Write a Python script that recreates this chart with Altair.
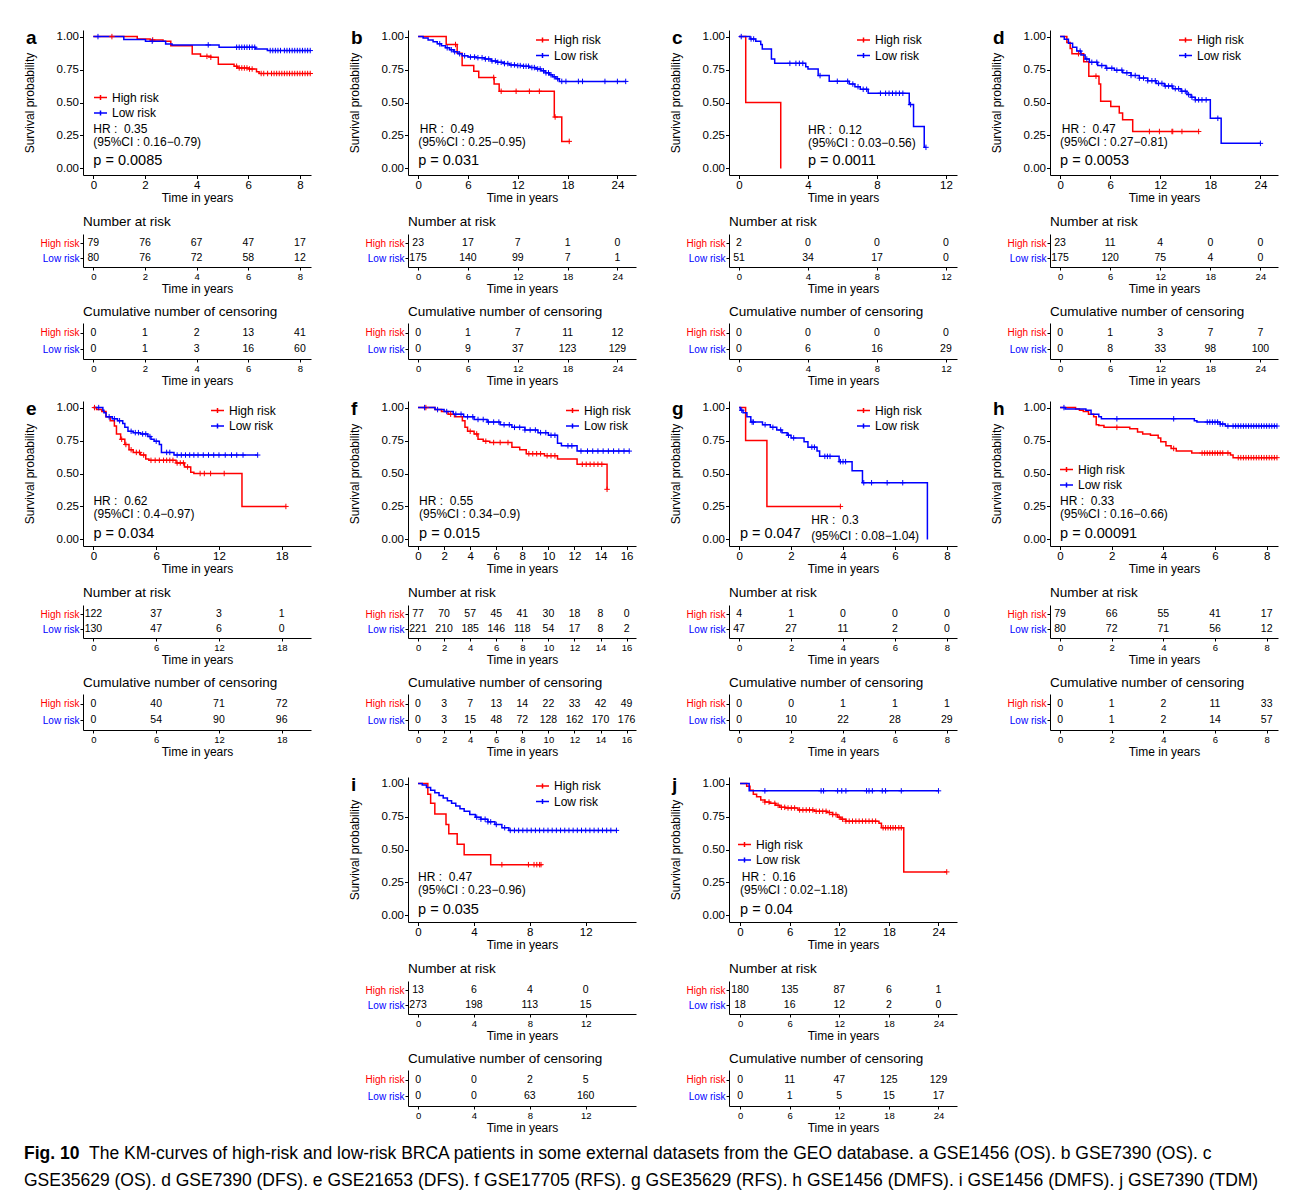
import altair as alt
import pandas as pd

FONT = "Liberation Sans, Arial, Helvetica, sans-serif"
CAP_FONT = "Liberation Sans, Arial, sans-serif"
RED = "#FF0000"
BLUE = "#0000FF"
GROUPS = ["High risk", "Low risk"]
PLUS = "M-1,0L1,0M0,-1L0,1"
KEY = "M-1,0L1,0M0,-0.4L0,0.4"
W = 228
H_KM = 145
H_RISK = 33
H_CENS = 36

# ---------------- panel a : GSE1456 (OS) ----------------
A_BREAKS = [0, 2, 4, 6, 8]
A_HIGH_T = [0, 1.70, 2.20, 2.70, 3.00, 3.83, 4.15, 4.55, 4.84, 5.45, 5.58, 6.03, 6.32, 6.42, 8.43]
A_HIGH_S = [1.0, 0.982, 0.975, 0.965, 0.93, 0.868, 0.85, 0.843, 0.79, 0.775, 0.762, 0.754, 0.734, 0.72, 0.72]
A_HIGH_C = [0.72, 2.3, 4.4, 4.55, 5.55, 5.65, 5.75, 5.85, 5.95, 6.05, 6.15, 6.5, 6.6, 6.75, 6.9, 7.0, 7.1, 7.2,
            7.3, 7.4, 7.5, 7.6, 7.7, 7.8, 7.9, 8.0, 8.1, 8.2, 8.3, 8.4]
A_LOW_T = [0, 1.18, 2.02, 2.80, 3.05, 4.87, 6.29, 6.74, 8.43]
A_LOW_S = [1.0, 0.977, 0.965, 0.944, 0.937, 0.919, 0.906, 0.894, 0.894]
A_LOW_C = [0.18, 2.28, 4.45, 5.55, 5.65, 5.75, 5.85, 5.95, 6.05, 6.15, 6.25, 6.85, 6.95, 7.05, 7.15, 7.25, 7.4,
           7.5, 7.6, 7.7, 7.8, 7.9, 8.0, 8.1, 8.2, 8.3, 8.4]
A_RISK_HIGH = [79, 76, 67, 47, 17]
A_RISK_LOW = [80, 76, 72, 58, 12]
A_CENS_HIGH = [0, 1, 2, 13, 41]
A_CENS_LOW = [0, 1, 3, 16, 60]
A_HR = "HR :\u00a0 0.35"
A_CI = "(95%CI : 0.16\u22120.79)"
A_P = "p = 0.0085"

# ---------------- panel b : GSE7390 (OS) ----------------
B_BREAKS = [0, 6, 12, 18, 24]
B_HIGH_T = [0, 3.38, 4.7, 5.3, 6.7, 7.3, 9.15, 9.76, 16.4, 17.3, 18.3]
B_HIGH_S = [1.0, 0.94, 0.873, 0.78, 0.737, 0.69, 0.64, 0.585, 0.39, 0.205, 0.205]
B_HIGH_C = [4.5, 9.1, 10.0, 11.8, 13.4, 14.6, 16.5, 18.2]
B_LOW_T = [0, 0.6, 1.2, 1.8, 2.3, 2.8, 3.3, 3.8, 4.3, 4.8, 5.3, 6.0, 7.0, 8.0, 8.8, 9.5, 10.3, 11.0, 11.8,
           12.6, 13.4, 14.2, 14.8, 15.3, 15.8, 16.2, 16.6, 17.0, 25.0]
B_LOW_S = [1.0, 0.99, 0.975, 0.96, 0.945, 0.93, 0.915, 0.90, 0.885, 0.87, 0.855, 0.845, 0.84, 0.83, 0.815,
           0.805, 0.795, 0.785, 0.78, 0.775, 0.765, 0.755, 0.74, 0.725, 0.71, 0.695, 0.68, 0.66, 0.66]
B_LOW_C = [2.6, 3.5, 4.0, 4.4, 5.0, 5.6, 6.3, 6.8, 7.2, 7.7, 8.1, 8.5, 8.9, 9.3, 9.6, 10.0, 10.4, 10.8, 11.2,
           11.6, 12.0, 12.3, 12.7, 13.0, 13.3, 13.7, 14.0, 14.4, 14.7, 15.1, 15.4, 15.7, 16.0, 16.4, 16.8,
           17.3, 17.8, 19.3, 19.8, 22.5, 24.0, 25.0]
B_RISK_HIGH = [23, 17, 7, 1, 0]
B_RISK_LOW = [175, 140, 99, 7, 1]
B_CENS_HIGH = [0, 1, 7, 11, 12]
B_CENS_LOW = [0, 9, 37, 123, 129]
B_HR = "HR :\u00a0 0.49"
B_CI = "(95%CI : 0.25\u22120.95)"
B_P = "p = 0.031"

# ---------------- panel c : GSE35629 (OS) ----------------
C_BREAKS = [0, 4, 8, 12]
C_HIGH_T = [0, 0.39, 2.42]
C_HIGH_S = [1.0, 0.5, 0.0]
C_HIGH_C = []
C_LOW_T = [0, 0.64, 0.97, 1.26, 1.35, 1.88, 2.07, 3.87, 4.0, 4.59, 5.23, 6.39, 6.72, 7.03, 7.49, 9.87,
           10.12, 10.74, 10.84]
C_LOW_S = [1.0, 0.982, 0.965, 0.94, 0.906, 0.83, 0.797, 0.772, 0.755, 0.704, 0.661, 0.64, 0.62, 0.60, 0.57,
           0.484, 0.317, 0.16, 0.16]
C_LOW_C = [0.13, 0.7, 0.85, 2.95, 3.3, 3.5, 3.7, 4.7, 5.7, 6.3, 6.6, 6.9, 7.2, 7.4, 8.2, 8.5, 8.7, 8.9, 9.1,
           9.3, 9.5, 9.95, 10.84]
C_RISK_HIGH = [2, 0, 0, 0]
C_RISK_LOW = [51, 34, 17, 0]
C_CENS_HIGH = [0, 0, 0, 0]
C_CENS_LOW = [0, 6, 16, 29]
C_HR = "HR :\u00a0 0.12"
C_CI = "(95%CI : 0.03\u22120.56)"
C_P = "p = 0.0011"

# ---------------- panel d : GSE7390 (DFS) ----------------
D_BREAKS = [0, 6, 12, 18, 24]
D_HIGH_T = [0, 0.81, 1.21, 1.42, 2.83, 3.44, 4.66, 4.86, 6.07, 7.09, 7.49, 8.70, 16.6]
D_HIGH_S = [1.0, 0.955, 0.91, 0.87, 0.81, 0.70, 0.64, 0.51, 0.47, 0.42, 0.37, 0.28, 0.28]
D_HIGH_C = [2.2, 4.3, 10.7, 11.9, 13.4, 13.5, 14.6, 16.6]
D_LOW_T = [0, 0.5, 1.0, 1.5, 2.0, 2.5, 3.0, 3.5, 4.5, 5.5, 6.5, 7.5, 8.5, 9.5, 10.5, 11.5, 12.5, 13.5, 14.5,
           15.2, 15.7, 16.2, 18.0, 19.3, 24.0]
D_LOW_S = [1.0, 0.98, 0.95, 0.92, 0.89, 0.86, 0.83, 0.805, 0.78, 0.76, 0.745, 0.725, 0.705, 0.685, 0.665,
           0.645, 0.625, 0.605, 0.585, 0.56, 0.54, 0.52, 0.38, 0.19, 0.19]
D_LOW_C = [2.4, 3.2, 3.8, 4.4, 5.0, 5.6, 6.2, 6.8, 7.4, 8.0, 8.5, 9.0, 9.5, 10.0, 10.5, 11.0, 11.4, 11.8, 12.2,
           12.6, 13.0, 13.4, 13.8, 14.2, 14.6, 15.0, 15.4, 15.8, 16.2, 16.6, 17.0, 17.5, 18.9, 24.0]
D_RISK_HIGH = [23, 11, 4, 0, 0]
D_RISK_LOW = [175, 120, 75, 4, 0]
D_CENS_HIGH = [0, 1, 3, 7, 7]
D_CENS_LOW = [0, 8, 33, 98, 100]
D_HR = "HR :\u00a0 0.47"
D_CI = "(95%CI : 0.27\u22120.81)"
D_P = "p = 0.0053"

# ---------------- panel e : GSE21653 (DFS) ----------------
E_BREAKS = [0, 6, 12, 18]
E_HIGH_T = [0, 0.3, 0.8, 1.2, 1.6, 2.0, 2.2, 2.6, 3.0, 3.4, 3.8, 4.5, 5.0, 5.3, 7.9, 8.7, 9.3, 9.6, 14.2, 18.4]
E_HIGH_S = [1.0, 0.985, 0.97, 0.93, 0.90, 0.86, 0.80, 0.76, 0.72, 0.68, 0.66, 0.64, 0.61, 0.60, 0.58, 0.55,
            0.51, 0.50, 0.25, 0.25]
E_HIGH_C = [0.1, 2.7, 3.1, 3.6, 4.1, 4.4, 4.8, 5.5, 5.9, 6.3, 6.7, 7.0, 7.3, 7.6, 8.0, 8.3, 8.6, 9.0, 10.2,
            10.6, 11.2, 12.5, 18.4]
E_LOW_T = [0, 0.9, 1.0, 1.2, 1.8, 2.3, 2.8, 3.0, 3.3, 3.8, 4.5, 5.2, 5.5, 5.8, 6.3, 6.5, 7.7, 15.7]
E_LOW_S = [1.0, 0.98, 0.96, 0.93, 0.915, 0.90, 0.88, 0.85, 0.82, 0.81, 0.80, 0.78, 0.76, 0.745, 0.72, 0.66,
           0.64, 0.64]
E_LOW_C = [0.5, 1.5, 2.0, 2.5, 3.6, 4.0, 4.3, 4.7, 5.0, 5.4, 6.0, 7.0, 7.3, 8.0, 8.4, 8.8, 9.2, 9.6, 10.0,
           10.5, 11.0, 11.5, 12.0, 12.6, 13.2, 13.7, 14.3, 15.7]
E_RISK_HIGH = [122, 37, 3, 1]
E_RISK_LOW = [130, 47, 6, 0]
E_CENS_HIGH = [0, 40, 71, 72]
E_CENS_LOW = [0, 54, 90, 96]
E_HR = "HR :\u00a0 0.62"
E_CI = "(95%CI : 0.4\u22120.97)"
E_P = "p = 0.034"

# ---------------- panel f : GSE17705 (RFS) ----------------
F_BREAKS = [0, 2, 4, 6, 8, 10, 12, 14, 16]
F_HIGH_T = [0, 1.3, 1.8, 2.3, 2.8, 3.4, 3.6, 3.8, 4.3, 4.6, 5.0, 5.5, 7.2, 7.8, 8.3, 9.7, 10.7, 12.2, 14.5]
F_HIGH_S = [1.0, 0.985, 0.97, 0.95, 0.93, 0.90, 0.85, 0.82, 0.80, 0.76, 0.745, 0.735, 0.70, 0.68, 0.65,
            0.635, 0.61, 0.57, 0.38]
F_HIGH_C = [0.6, 2.5, 4.0, 4.5, 5.2, 5.8, 6.3, 6.9, 8.5, 8.8, 9.1, 9.4, 9.9, 10.2, 10.5, 12.6, 12.9, 13.2,
            13.5, 13.8, 14.1, 14.5]
F_LOW_T = [0, 1.3, 2.0, 2.7, 3.5, 4.3, 5.3, 6.3, 7.2, 8.2, 9.2, 10.0, 10.7, 11.0, 12.2, 16.2]
F_LOW_S = [1.0, 0.985, 0.97, 0.95, 0.93, 0.91, 0.89, 0.87, 0.85, 0.83, 0.81, 0.79, 0.73, 0.71, 0.67, 0.67]
F_LOW_C = [0.5, 1.5, 2.2, 2.9, 3.3, 3.8, 4.2, 4.6, 5.0, 5.4, 5.8, 6.2, 6.6, 7.0, 7.4, 7.8, 8.2, 8.6, 9.0,
           9.4, 9.8, 10.2, 10.5, 11.5, 11.8, 12.5, 13.0, 13.4, 13.8, 14.2, 14.6, 15.0, 15.4, 15.8, 16.2]
F_RISK_HIGH = [77, 70, 57, 45, 41, 30, 18, 8, 0]
F_RISK_LOW = [221, 210, 185, 146, 118, 54, 17, 8, 2]
F_CENS_HIGH = [0, 3, 7, 13, 14, 22, 33, 42, 49]
F_CENS_LOW = [0, 3, 15, 48, 72, 128, 162, 170, 176]
F_HR = "HR :\u00a0 0.55"
F_CI = "(95%CI : 0.34\u22120.9)"
F_P = "p = 0.015"

# ---------------- panel g : GSE35629 (RFS) ----------------
G_BREAKS = [0, 2, 4, 6, 8]
G_HIGH_T = [0, 0.25, 1.07, 3.9]
G_HIGH_S = [1.0, 0.75, 0.25, 0.25]
G_HIGH_C = [3.9]
G_LOW_T = [0, 0.05, 0.15, 0.3, 0.45, 0.9, 1.2, 1.45, 1.65, 1.85, 2.0, 2.5, 2.65, 3.0, 3.1, 3.85, 4.35, 4.75,
           7.25]
G_LOW_S = [1.0, 0.98, 0.96, 0.93, 0.89, 0.87, 0.85, 0.83, 0.81, 0.79, 0.77, 0.74, 0.70, 0.67, 0.63, 0.59,
           0.52, 0.43, 0.0]
G_LOW_C = [0.1, 0.5, 0.55, 1.0, 1.3, 1.6, 1.9, 2.1, 2.8, 2.9, 3.3, 3.4, 3.5, 3.9, 4.0, 4.1, 4.8, 5.1, 5.7, 6.3]
G_RISK_HIGH = [4, 1, 0, 0, 0]
G_RISK_LOW = [47, 27, 11, 2, 0]
G_CENS_HIGH = [0, 0, 1, 1, 1]
G_CENS_LOW = [0, 10, 22, 28, 29]
G_HR = "HR :\u00a0 0.3"
G_CI = "(95%CI : 0.08\u22121.04)"
G_P = "p = 0.047"

# ---------------- panel h : GSE1456 (DMFS) ----------------
H_BREAKS = [0, 2, 4, 6, 8]
H_HIGH_T = [0, 0.6, 0.75, 0.9, 1.1, 1.3, 1.4, 1.5, 1.7, 2.7, 3.0, 3.2, 3.5, 3.8, 3.9, 4.1, 4.3, 4.5, 5.1,
            6.6, 6.7, 8.4]
H_HIGH_S = [1.0, 0.99, 0.98, 0.97, 0.95, 0.93, 0.87, 0.865, 0.85, 0.84, 0.815, 0.80, 0.79, 0.77, 0.74,
            0.71, 0.69, 0.67, 0.655, 0.64, 0.62, 0.62]
H_HIGH_C = [2.2, 4.4, 5.5, 5.6, 5.7, 5.8, 5.9, 6.0, 6.1, 6.2, 6.3, 6.5, 6.9, 7.0, 7.1, 7.2, 7.3, 7.4, 7.5,
            7.6, 7.7, 7.8, 7.9, 8.0, 8.1, 8.2, 8.3, 8.4]
H_LOW_T = [0, 0.2, 1.0, 1.2, 1.5, 1.6, 5.2, 5.3, 6.2, 6.4, 8.4]
H_LOW_S = [1.0, 0.99, 0.98, 0.95, 0.93, 0.915, 0.90, 0.89, 0.875, 0.86, 0.86]
H_LOW_C = [0.15, 2.2, 4.4, 5.7, 5.8, 5.9, 6.0, 6.1, 6.2, 6.3, 6.5, 6.7, 6.8, 6.9, 7.0, 7.1, 7.2, 7.3, 7.4,
           7.5, 7.6, 7.7, 7.8, 7.9, 8.0, 8.1, 8.2, 8.3, 8.4]
H_RISK_HIGH = [79, 66, 55, 41, 17]
H_RISK_LOW = [80, 72, 71, 56, 12]
H_CENS_HIGH = [0, 1, 2, 11, 33]
H_CENS_LOW = [0, 1, 2, 14, 57]
H_HR = "HR :\u00a0 0.33"
H_CI = "(95%CI : 0.16\u22120.66)"
H_P = "p = 0.00091"

# ---------------- panel i : GSE1456 (DMFS) ----------------
I_BREAKS = [0, 4, 8, 12]
I_HIGH_T = [0, 0.7, 0.9, 1.2, 2.0, 2.2, 2.8, 3.3, 5.2, 8.9]
I_HIGH_S = [1.0, 0.92, 0.85, 0.77, 0.69, 0.62, 0.54, 0.46, 0.385, 0.385]
I_HIGH_C = [6.0, 7.9, 8.3, 8.5, 8.7, 8.8]
I_LOW_T = [0, 0.3, 0.6, 0.9, 1.2, 1.5, 1.8, 2.1, 2.4, 2.7, 3.0, 3.3, 3.7, 4.1, 4.5, 5.0, 5.5, 6.0, 6.5, 14.2]
I_LOW_S = [1.0, 0.99, 0.97, 0.95, 0.93, 0.91, 0.89, 0.87, 0.85, 0.83, 0.81, 0.79, 0.765, 0.745, 0.73, 0.71,
           0.69, 0.665, 0.645, 0.645]
I_LOW_C = [4.2, 4.5, 4.8, 5.0, 5.2, 5.6, 6.2, 6.6, 6.9, 7.2, 7.5, 7.8, 8.1, 8.4, 8.7, 9.0, 9.3, 9.6, 9.9,
           10.2, 10.5, 10.8, 11.1, 11.4, 11.7, 12.0, 12.3, 12.6, 12.9, 13.2, 13.5, 13.8, 14.2]
I_RISK_HIGH = [13, 6, 4, 0]
I_RISK_LOW = [273, 198, 113, 15]
I_CENS_HIGH = [0, 0, 2, 5]
I_CENS_LOW = [0, 0, 63, 160]
I_HR = "HR :\u00a0 0.47"
I_CI = "(95%CI : 0.23\u22120.96)"
I_P = "p = 0.035"

# ---------------- panel j : GSE7390 (TDM) ----------------
J_BREAKS = [0, 6, 12, 18, 24]
J_HIGH_T = [0, 0.8, 1.2, 1.6, 2.0, 2.5, 3.0, 3.6, 4.3, 4.8, 5.5, 7.0, 9.0, 10.5, 11.2, 11.8, 12.2, 12.8,
            16.8, 17.1, 19.8, 25.0]
J_HIGH_S = [1.0, 0.98, 0.95, 0.92, 0.90, 0.875, 0.86, 0.85, 0.835, 0.82, 0.815, 0.80, 0.79, 0.78, 0.765,
            0.745, 0.73, 0.715, 0.70, 0.665, 0.33, 0.33]
J_HIGH_C = [3.0, 3.5, 4.2, 4.6, 5.0, 5.4, 5.8, 6.2, 6.6, 7.2, 7.6, 8.0, 8.4, 8.8, 9.2, 9.6, 10.0, 10.4, 10.8,
            11.2, 11.6, 12.0, 12.4, 12.8, 13.2, 13.6, 14.0, 14.4, 14.8, 15.2, 15.6, 16.0, 16.4, 17.3, 17.6,
            17.9, 18.2, 18.5, 18.8, 19.2, 19.5, 25.0]
J_LOW_T = [0, 1.1, 24.0]
J_LOW_S = [1.0, 0.945, 0.945]
J_LOW_C = [3.0, 9.8, 10.1, 11.8, 12.3, 12.8, 15.3, 15.6, 16.0, 17.2, 17.6, 19.5, 24.0]
J_RISK_HIGH = [180, 135, 87, 6, 1]
J_RISK_LOW = [18, 16, 12, 2, 0]
J_CENS_HIGH = [0, 11, 47, 125, 129]
J_CENS_LOW = [0, 1, 5, 15, 17]
J_HR = "HR :\u00a0 0.16"
J_CI = "(95%CI : 0.02\u22121.18)"
J_P = "p = 0.04"

CAPTION_LINE1 = ("The KM-curves of high-risk and low-risk BRCA patients in some external datasets from the GEO "
                 "database. a GSE1456 (OS). b GSE7390 (OS). c")
CAPTION_LINE2 = ("GSE35629 (OS). d GSE7390 (DFS). e GSE21653 (DFS). f GSE17705 (RFS). g GSE35629 (RFS). "
                 "h GSE1456 (DMFS). i GSE1456 (DMFS). j GSE7390 (TDM)")

# layout per panel: x-domain, legend position (px), annotation anchors (data units)
PANELS = [
    dict(letter="a", dom=[-0.40, 8.43], breaks=A_BREAKS, high=(A_HIGH_T, A_HIGH_S, A_HIGH_C),
         low=(A_LOW_T, A_LOW_S, A_LOW_C), risk=(A_RISK_HIGH, A_RISK_LOW), cens=(A_CENS_HIGH, A_CENS_LOW),
         txt=(A_HR, A_CI, A_P), leg=(10, 60), hr=(0.0, 0.30, 0.0, 0.20), p=(0.0, 0.053)),
    dict(letter="b", dom=[-1.22, 26.24], breaks=B_BREAKS, high=(B_HIGH_T, B_HIGH_S, B_HIGH_C),
         low=(B_LOW_T, B_LOW_S, B_LOW_C), risk=(B_RISK_HIGH, B_RISK_LOW), cens=(B_CENS_HIGH, B_CENS_LOW),
         txt=(B_HR, B_CI, B_P), leg=(127, 2.5), hr=(0.2, 0.30, 0.0, 0.20), p=(0.0, 0.053)),
    dict(letter="c", dom=[-0.58, 12.64], breaks=C_BREAKS, high=(C_HIGH_T, C_HIGH_S, C_HIGH_C),
         low=(C_LOW_T, C_LOW_S, C_LOW_C), risk=(C_RISK_HIGH, C_RISK_LOW), cens=(C_CENS_HIGH, C_CENS_LOW),
         txt=(C_HR, C_CI, C_P), leg=(127, 2.5), hr=(4.0, 0.295, 4.0, 0.195), p=(4.0, 0.053)),
    dict(letter="d", dom=[-1.21, 26.11], breaks=D_BREAKS, high=(D_HIGH_T, D_HIGH_S, D_HIGH_C),
         low=(D_LOW_T, D_LOW_S, D_LOW_C), risk=(D_RISK_HIGH, D_RISK_LOW), cens=(D_CENS_HIGH, D_CENS_LOW),
         txt=(D_HR, D_CI, D_P), leg=(128, 2.5), hr=(0.2, 0.30, 0.0, 0.20), p=(0.0, 0.053)),
    dict(letter="e", dom=[-1.0, 20.8], breaks=E_BREAKS, high=(E_HIGH_T, E_HIGH_S, E_HIGH_C),
         low=(E_LOW_T, E_LOW_S, E_LOW_C), risk=(E_RISK_HIGH, E_RISK_LOW), cens=(E_CENS_HIGH, E_CENS_LOW),
         txt=(E_HR, E_CI, E_P), leg=(127, 2), hr=(0.0, 0.295, 0.0, 0.195), p=(0.0, 0.043)),
    dict(letter="f", dom=[-0.77, 16.72], breaks=F_BREAKS, high=(F_HIGH_T, F_HIGH_S, F_HIGH_C),
         low=(F_LOW_T, F_LOW_S, F_LOW_C), risk=(F_RISK_HIGH, F_RISK_LOW), cens=(F_CENS_HIGH, F_CENS_LOW),
         txt=(F_HR, F_CI, F_P), leg=(157, 2), hr=(0.08, 0.295, 0.08, 0.195), p=(0.08, 0.043)),
    dict(letter="g", dom=[-0.39, 8.39], breaks=G_BREAKS, high=(G_HIGH_T, G_HIGH_S, G_HIGH_C),
         low=(G_LOW_T, G_LOW_S, G_LOW_C), risk=(G_RISK_HIGH, G_RISK_LOW), cens=(G_CENS_HIGH, G_CENS_LOW),
         txt=(G_HR, G_CI, G_P), leg=(127, 2), hr=(2.78, 0.145, 2.78, 0.023), p=(0.03, 0.043)),
    dict(letter="h", dom=[-0.39, 8.44], breaks=H_BREAKS, high=(H_HIGH_T, H_HIGH_S, H_HIGH_C),
         low=(H_LOW_T, H_LOW_S, H_LOW_C), risk=(H_RISK_HIGH, H_RISK_LOW), cens=(H_CENS_HIGH, H_CENS_LOW),
         txt=(H_HR, H_CI, H_P), leg=(9, 61), hr=(0.0, 0.295, 0.0, 0.195), p=(0.0, 0.043)),
    dict(letter="i", dom=[-0.72, 15.6], breaks=I_BREAKS, high=(I_HIGH_T, I_HIGH_S, I_HIGH_C),
         low=(I_LOW_T, I_LOW_S, I_LOW_C), risk=(I_RISK_HIGH, I_RISK_LOW), cens=(I_CENS_HIGH, I_CENS_LOW),
         txt=(I_HR, I_CI, I_P), leg=(127, 1.5), hr=(0.0, 0.29, 0.0, 0.19), p=(0.0, 0.043)),
    dict(letter="j", dom=[-1.34, 26.24], breaks=J_BREAKS, high=(J_HIGH_T, J_HIGH_S, J_HIGH_C),
         low=(J_LOW_T, J_LOW_S, J_LOW_C), risk=(J_RISK_HIGH, J_RISK_LOW), cens=(J_CENS_HIGH, J_CENS_LOW),
         txt=(J_HR, J_CI, J_P), leg=(8, 60), hr=(0.2, 0.29, 0.0, 0.19), p=(0.0, 0.043)),
]


def surv_at(T, S, t):
    v = S[0]
    for ti, si in zip(T, S):
        if ti <= t:
            v = si
        else:
            break
    return v


def km_chart(p):
    line_rows, cens_rows = [], []
    for g, (T, S, C) in zip(GROUPS, (p["high"], p["low"])):
        for k, (t, s) in enumerate(zip(T, S)):
            line_rows.append({"t": t, "s": s, "group": g, "ord": k})
        for c in C:
            cens_rows.append({"t": c, "s": surv_at(T, S, c), "group": g})
    line_df = pd.DataFrame(line_rows)
    cens_df = pd.DataFrame(cens_rows) if cens_rows else pd.DataFrame({"t": [], "s": [], "group": []})

    xs = alt.Scale(domain=p["dom"], nice=False, zero=False)
    ys = alt.Scale(domain=[-0.05, 1.05], nice=False, zero=False)
    X = alt.X("t:Q", scale=xs, axis=alt.Axis(values=p["breaks"], format="d", title="Time in years",
                                             tickSize=3.5, labelPadding=0.5, labelFontSize=11.5,
                                             titleFontSize=12, titlePadding=2))
    Y = alt.Y("s:Q", scale=ys, axis=alt.Axis(values=[0, 0.25, 0.5, 0.75, 1.0], format=".2f",
                                             title="Survival probability", tickSize=3.5, labelPadding=1,
                                             labelFontSize=11.5, titleFontSize=12, titlePadding=20))
    legend = alt.Legend(orient="none", legendX=p["leg"][0], legendY=p["leg"][1], title=None,
                        symbolType=KEY, symbolSize=169, symbolStrokeWidth=1.5, symbolOpacity=1,
                        labelFontSize=12, labelFont=FONT, labelColor="black", rowPadding=1.5,
                        padding=0, labelOffset=4)
    color = alt.Color("group:N", scale=alt.Scale(domain=GROUPS, range=[RED, BLUE]), legend=legend)

    lines = alt.Chart(line_df).mark_line(interpolate="step-after", strokeWidth=1.5).encode(
        x=X, y=Y, color=color, order=alt.Order("ord:Q"))
    cens = alt.Chart(cens_df).mark_point(shape=PLUS, size=30, strokeWidth=1, filled=False, opacity=1).encode(
        x=X, y=Y, color=color)
    hr_df = pd.DataFrame({"t": [p["hr"][0], p["hr"][2]], "s": [p["hr"][1], p["hr"][3]],
                          "label": [p["txt"][0], p["txt"][1]]})
    hr = alt.Chart(hr_df).mark_text(align="left", baseline="middle", fontSize=12, font=FONT,
                                    color="black").encode(x=X, y=Y, text="label:N")
    pv_df = pd.DataFrame({"t": [p["p"][0]], "s": [p["p"][1]], "label": [p["txt"][2]]})
    pv = alt.Chart(pv_df).mark_text(align="left", baseline="middle", fontSize=14.5, font=FONT,
                                    color="black").encode(x=X, y=Y, text="label:N")
    letter = alt.Chart(pd.DataFrame({"label": [p["letter"]]})).mark_text(
        align="left", baseline="middle", fontSize=19, fontWeight="bold", font=FONT, color="black").encode(
        x=alt.value(-57), y=alt.value(8), text="label:N")
    return alt.layer(lines, cens, hr, pv, letter).properties(width=W, height=H_KM)


def table_chart(p, values, title, height, offset):
    hi, lo = values
    n = len(p["breaks"])
    df = pd.DataFrame({"t": list(p["breaks"]) * 2, "group": ["High risk"] * n + ["Low risk"] * n,
                       "v": list(hi) + list(lo)})
    xs = alt.Scale(domain=p["dom"], nice=False, zero=False)
    label_color = {"condition": {"test": "datum.value == 'High risk'", "value": RED}, "value": BLUE}
    return alt.Chart(df, title=alt.TitleParams(title, anchor="start", frame="group", fontSize=13.5,
                                               font=FONT, fontWeight="normal", offset=offset,
                                               color="black")).mark_text(
        fontSize=10.5, font=FONT, color="black").encode(
        x=alt.X("t:Q", scale=xs, axis=alt.Axis(values=p["breaks"], format="d", title="Time in years",
                                               tickSize=3, labelPadding=1, labelFontSize=9.5,
                                               titleFontSize=12, titlePadding=3)),
        y=alt.Y("group:N", sort=GROUPS, scale=alt.Scale(type="point", padding=0.6),
                axis=alt.Axis(title=None, tickSize=3, labelPadding=1, labelFontSize=10,
                              labelColor=label_color)),
        text="v:Q",
    ).properties(width=W, height=height)


def panel(p):
    return alt.vconcat(
        km_chart(p),
        table_chart(p, p["risk"], "Number at risk", H_RISK, 6),
        table_chart(p, p["cens"], "Cumulative number of censoring", H_CENS, 4.5),
        spacing=10,
    ).resolve_scale(color="independent")


cells = [panel(p) for p in PANELS[:8]]
blank = alt.Chart(pd.DataFrame({"v": [0]})).mark_text(text="").encode(
    x=alt.value(0), y=alt.value(0)).properties(width=W, height=10)
cells.append(blank)
cells.append(panel(PANELS[8]))
cells.append(panel(PANELS[9]))

grid = alt.concat(*cells, columns=4, spacing={"row": 13, "column": 33}).resolve_scale(color="independent")

CAP_SIZE = 17.5
fig_lab = alt.Chart(pd.DataFrame({"txt": ["Fig. 10"]})).mark_text(
    align="left", baseline="middle", font=CAP_FONT, fontSize=CAP_SIZE, fontWeight="bold", color="black").encode(
    x=alt.value(-59), y=alt.value(10), text="txt:N")
cap1 = alt.Chart(pd.DataFrame({"txt": [CAPTION_LINE1]})).mark_text(
    align="left", baseline="middle", font=CAP_FONT, fontSize=CAP_SIZE, color="black", limit=1195).encode(
    x=alt.value(6), y=alt.value(10), text="txt:N")
cap2 = alt.Chart(pd.DataFrame({"txt": [CAPTION_LINE2]})).mark_text(
    align="left", baseline="middle", font=CAP_FONT, fontSize=CAP_SIZE, color="black", limit=1262).encode(
    x=alt.value(-59), y=alt.value(37), text="txt:N")
caption = alt.layer(fig_lab, cap1, cap2).properties(width=1100, height=48)

chart = alt.vconcat(grid, caption, spacing=10).resolve_scale(color="independent").properties(
    padding={"left": 23, "top": 29, "right": 5, "bottom": 4},
    background="white",
).configure_view(stroke=None).configure_axis(
    grid=False, domainColor="black", tickColor="black", labelColor="black", titleColor="black",
    labelFont=FONT, titleFont=FONT, titleFontWeight="normal", domainWidth=1, tickWidth=1,
).configure_title(font=FONT, fontWeight="normal", color="black")

chart.save("out.html", embed_options={"renderer": "svg", "actions": False})
